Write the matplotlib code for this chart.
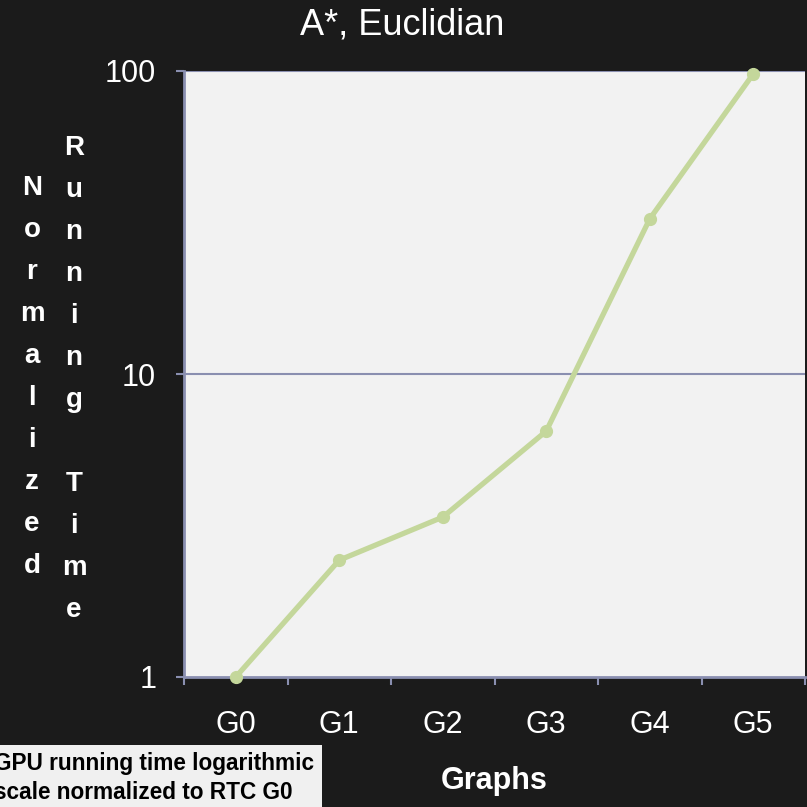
import matplotlib
matplotlib.use("Agg")
import matplotlib.pyplot as plt
import numpy as np

categories = ["G0", "G1", "G2", "G3", "G4", "G5"]
values = [1.0, 2.43, 3.37, 6.48, 32.5, 97.8]
yticks = [1, 10, 100]
ytick_labels = ["1", "10", "100"]
title = "A*, Euclidian"
xlabel = "Graphs"
ylabel_cols = ["Normalized", "Running Time"]
note = "GPU running time logarithmic\nscale normalized to RTC G0"

plt.rcParams['font.family'] = ['Liberation Sans', 'DejaVu Sans']

BG = "#1b1b1b"
AX = "#8a8fb0"
fig = plt.figure(figsize=(8.07, 8.07), dpi=100, facecolor=BG)
W = H = 807
ax = fig.add_axes([184 / W, 1 - 677 / H, (805 - 184) / W, (677 - 71) / H])
ax.set_facecolor("#f2f2f2")

x = np.arange(len(categories))
ax.plot(x, values, color="#c4d79b", lw=3.8, marker="o", ms=8.5,
        solid_capstyle="round", zorder=3, clip_on=False)

ax.set_yscale("log")
ax.set_ylim(1, 100)
ax.set_xlim(-0.5, len(categories) - 0.5)
ax.set_yticks(yticks)
ax.set_yticklabels(ytick_labels)
ax.yaxis.set_minor_locator(matplotlib.ticker.NullLocator())
ax.set_xticks(x)
ax.set_xticklabels(categories)
ax.set_xticks(np.arange(-0.5, len(categories)), minor=True)
ax.tick_params(axis="x", which="major", length=0, pad=24, labelsize=22, labelcolor="white")
ax.tick_params(axis="x", which="minor", length=6, width=1.5, color=AX, direction="out")
ax.tick_params(axis="y", which="major", length=6, width=1.5, color=AX, pad=14,
               labelsize=22, labelcolor="white")

for yv in yticks[1:]:
    ax.axhline(yv, color=AX, lw=1.5, zorder=1)
for s in ["top", "right"]:
    ax.spines[s].set_visible(False)
for s in ["left", "bottom"]:
    ax.spines[s].set_color(AX)
    ax.spines[s].set_linewidth(2)

fig.text(402 / W, 1 - 25 / H, title, color="white", fontsize=26, ha="center", va="center")
fig.text(494 / W, 1 - 781 / H, xlabel, color="white", fontsize=22, fontweight="bold",
         ha="center", va="center")

col_x = [32, 74]
col_y0 = [188, 148]
step = 42
for cx, cy0, word in zip(col_x, col_y0, ylabel_cols):
    for i, ch in enumerate(word):
        if ch == " ":
            continue
        fig.text(cx / W, 1 - (cy0 + i * step) / H, ch, color="white", fontsize=20,
                 fontweight="bold", ha="center", va="center")

fig.patches.append(matplotlib.patches.Rectangle((0, 0), 322 / W, (807 - 745) / H,
                   transform=fig.transFigure, facecolor="#f0f0f0", edgecolor="none", zorder=0))
fig.text(-6 / W, 1 - 778 / H, note, color="black", fontsize=16.3, fontweight="bold",
         ha="left", va="center", linespacing=1.3)

fig.savefig("out.png", dpi=100, facecolor=BG)
